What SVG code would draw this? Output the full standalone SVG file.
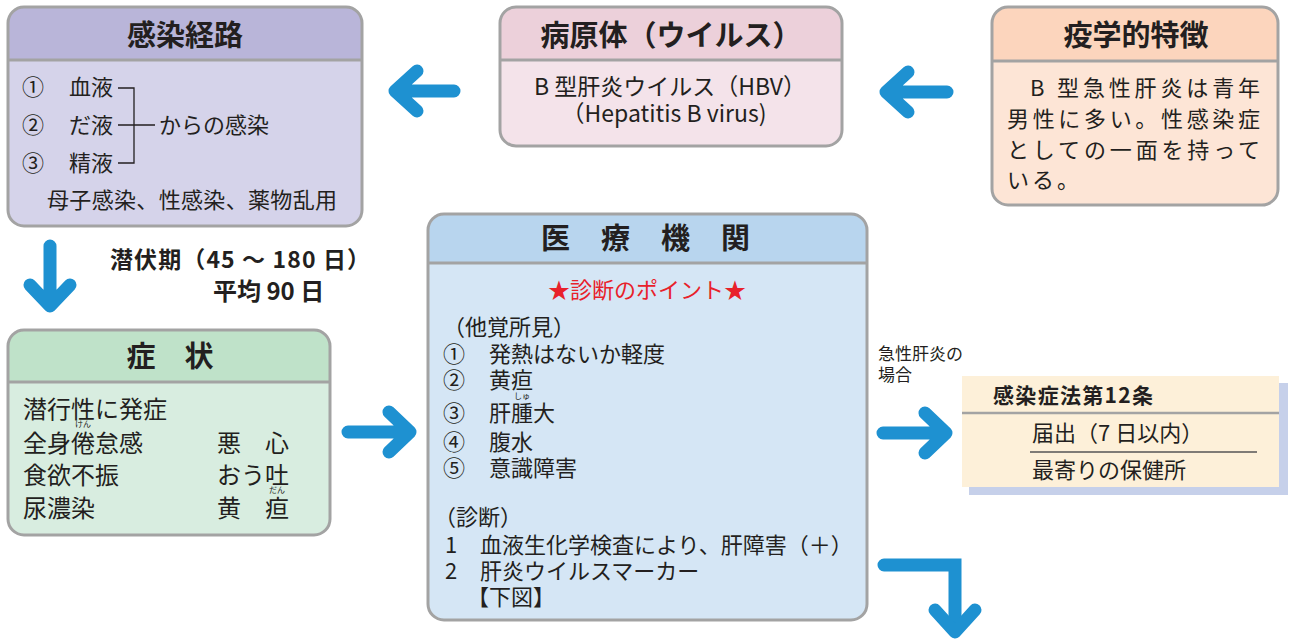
<svg xmlns="http://www.w3.org/2000/svg" width="1290" height="642" viewBox="0 0 1290 642">
<style>
text{font-family:"Noto Sans CJK JP","Noto Sans",sans-serif;fill:#231f20;}
.t{font-size:29px;font-weight:bold;text-anchor:middle;}
.b{font-size:22px;}
.b24{font-size:24px;}
.s{font-size:17px;}
.r{font-size:8px;text-anchor:middle;}
.bd{fill:none;stroke:#a3a3a3;stroke-width:3;}
.hl{stroke:#a3a3a3;stroke-width:3;}
.arr{fill:none;stroke:#1e91d1;stroke-width:13;stroke-linecap:round;stroke-linejoin:round;}
</style>
<rect width="1290" height="642" fill="#ffffff"/>

<g id="kansen-keiro">
<rect x="8" y="7" width="354" height="219" rx="16" fill="#d5d3ea"/>
<path d="M8 60 V23 A16 16 0 0 1 24 7 H346 A16 16 0 0 1 362 23 V60 Z" fill="#b9b5d9"/>
<line class="hl" x1="8" y1="60" x2="362" y2="60"/>
<rect class="bd" x="8" y="7" width="354" height="219" rx="16"/>
<text class="t" x="185" y="46">感染経路</text>
<text class="b" x="22" y="95">①</text><text class="b" x="69" y="95">血液</text>
<text class="b" x="22" y="133">②</text><text class="b" x="69" y="133">だ液</text>
<text class="b" x="22" y="171">③</text><text class="b" x="69" y="171">精液</text>
<path d="M118 88 H134 V163 H118 M118 125 H155" fill="none" stroke="#231f20" stroke-width="1.3"/>
<text class="b" x="159" y="133">からの感染</text>
<text class="b" x="47" y="208" textLength="290">母子感染、性感染、薬物乱用</text>
</g>

<g id="byogentai">
<rect x="500" y="7" width="342" height="139" rx="16" fill="#f4e3ea"/>
<path d="M500 60 V23 A16 16 0 0 1 516 7 H826 A16 16 0 0 1 842 23 V60 Z" fill="#ecd0da"/>
<line class="hl" x1="500" y1="60" x2="842" y2="60"/>
<rect class="bd" x="500" y="7" width="342" height="139" rx="16"/>
<text class="t" x="671" y="46">病原体（ウイルス）</text>
<text x="670" y="95" text-anchor="middle" style="font-size:23px">B 型肝炎ウイルス（HBV）</text>
<text x="664" y="122" text-anchor="middle" style="font-size:23px">（Hepatitis B virus)</text>
</g>

<g id="ekigaku">
<rect x="992" y="7" width="286" height="198" rx="16" fill="#fde5d6"/>
<path d="M992 61 V23 A16 16 0 0 1 1008 7 H1262 A16 16 0 0 1 1278 23 V61 Z" fill="#fcd5bd"/>
<line class="hl" x1="992" y1="61" x2="1278" y2="61"/>
<rect class="bd" x="992" y="7" width="286" height="198" rx="16"/>
<text class="t" x="1136" y="46">疫学的特徴</text>
<text class="b" x="1030" y="96" textLength="230">B 型急性肝炎は青年</text>
<text class="b" x="1007" y="127" textLength="253">男性に多い。性感染症</text>
<text class="b" x="1007" y="158" textLength="253">としての一面を持って</text>
<text class="b" x="1007" y="188" letter-spacing="3">いる。</text>
</g>

<g id="senpukuki">
<text x="110" y="268" textLength="260" style="font-size:23px;font-weight:bold">潜伏期（45 ～ 180 日）</text>
<text x="213" y="300" style="font-size:24px;font-weight:bold">平均 90 日</text>
</g>

<g id="shojo">
<rect x="8" y="330" width="322" height="205" rx="16" fill="#d8ede0"/>
<path d="M8 382 V346 A16 16 0 0 1 24 330 H314 A16 16 0 0 1 330 346 V382 Z" fill="#bfe2c9"/>
<line class="hl" x1="8" y1="382" x2="330" y2="382"/>
<rect class="bd" x="8" y="330" width="322" height="205" rx="16"/>
<text class="t" x="170" y="367">症　状</text>
<text class="b24" x="23" y="418">潜行性に発症</text>
<text class="r" x="83" y="427">けん</text>
<text class="b24" x="23" y="452">全身倦怠感</text>
<text class="b24" x="23" y="484">食欲不振</text>
<text class="b24" x="23" y="517">尿濃染</text>
<text class="b24" x="217" y="452">悪　心</text>
<text class="b24" x="217" y="484">おう吐</text>
<text class="r" x="277" y="493">だん</text>
<text class="b24" x="217" y="517">黄　疸</text>
</g>

<g id="iryo-kikan">
<rect x="428" y="214" width="439" height="406" rx="16" fill="#d5e6f5"/>
<path d="M428 263 V230 A16 16 0 0 1 444 214 H851 A16 16 0 0 1 867 230 V263 Z" fill="#b8d5ee"/>
<line class="hl" x1="428" y1="263" x2="867" y2="263"/>
<rect class="bd" x="428" y="214" width="439" height="406" rx="16"/>
<text x="541 601 661 721" y="249" style="font-size:29px;font-weight:bold">医療機関</text>
<text class="b" x="647" y="298" text-anchor="middle" style="fill:#e8212a">★診断のポイント★</text>
<text class="b" x="443" y="335">（他覚所見）</text>
<text class="b" x="443" y="362">①</text><text class="b" x="489" y="362">発熱はないか軽度</text>
<text class="b" x="443" y="388">②</text><text class="b" x="489" y="388">黄疸</text>
<text class="r" x="522" y="399">しゅ</text>
<text class="b" x="443" y="421">③</text><text class="b" x="489" y="421">肝腫大</text>
<text class="b" x="443" y="450">④</text><text class="b" x="489" y="450">腹水</text>
<text class="b" x="443" y="476">⑤</text><text class="b" x="489" y="476">意識障害</text>
<text class="b" x="434" y="525">（診断）</text>
<text class="b" x="445" y="553">1</text><text class="b" x="480" y="553">血液生化学検査により、肝障害（＋）</text>
<text class="b" x="445" y="579">2</text><text class="b" x="480" y="579">肝炎ウイルスマーカー</text>
<text class="b" x="467" y="605">【下図】</text>
</g>

<g id="kyusei-label">
<text class="s" x="878" y="360">急性肝炎の</text>
<text class="s" x="878" y="381">場合</text>
</g>

<g id="kansenshoho">
<rect x="969" y="383" width="319" height="112" fill="#c6d0ea"/>
<rect x="962" y="376" width="317" height="111" fill="#fdf0d9"/>
<line x1="962" y1="413" x2="1279" y2="413" stroke="#a3a3a3" stroke-width="2.5"/>
<text x="993" y="403" textLength="160" style="font-size:21px;font-weight:bold">感染症法第12条</text>
<text class="b" x="1032" y="441">届出（7 日以内）</text>
<line x1="1030" y1="452" x2="1257" y2="452" stroke="#555" stroke-width="1.3"/>
<text class="b" x="1032" y="478">最寄りの保健所</text>
</g>

<g id="connectors">
<path class="arr" d="M454 91 H395 M417 71 L395 91 L417 111"/>
<path class="arr" d="M947 92 H886 M908 72 L886 92 L908 112"/>
<path class="arr" d="M50 246 V306 M30 285 L50 306 L70 285"/>
<path class="arr" d="M348 432 H410 M389 412 L410 432 L389 452"/>
<path class="arr" d="M883 433 H946 M925 413 L946 433 L925 453"/>
<path d="M884 565 H955 V628" fill="none" stroke="#1e91d1" stroke-width="13" stroke-linecap="round" stroke-linejoin="miter"/>
<path class="arr" d="M935 610 L955 632 L975 610"/>
</g>
</svg>
